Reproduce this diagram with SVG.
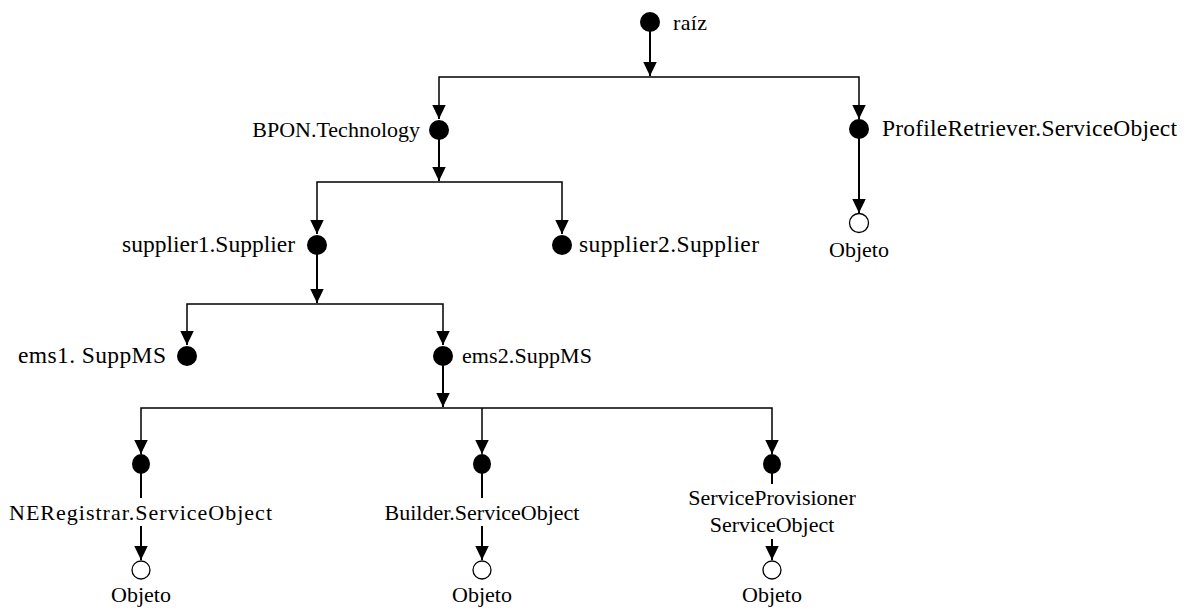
<svg xmlns="http://www.w3.org/2000/svg" width="1187" height="608" viewBox="0 0 1187 608">
<style>
.t{font-family:"Liberation Serif","Times New Roman",serif;font-size:22px;fill:#000}
.b{font-size:23.5px}
.e{text-anchor:end}
.m{text-anchor:middle}
.v{stroke:#000;stroke-width:2;fill:none}
.h{stroke:#000;stroke-width:1.5;fill:none}
.f{fill:#000}
.o{fill:#fff;stroke:#000;stroke-width:1.3}
</style>
<defs>
<marker id="a" markerUnits="userSpaceOnUse" markerWidth="15" markerHeight="15" viewBox="0 -7 14 14" refX="13.5" refY="0" orient="auto">
<path d="M0,-6.5 L13.5,0 L0,6.5 z" fill="#000"/>
</marker>
</defs>
<rect width="1187" height="608" fill="#fff"/>
<g id="connectors">
<line class="v" x1="650" y1="30" x2="650" y2="76" marker-end="url(#a)"/>
<polyline class="h" points="439,119 439,77 859,77 859,119"/>
<line class="h" x1="439" y1="105" x2="439" y2="119" marker-end="url(#a)"/>
<line class="h" x1="859" y1="105" x2="859" y2="119" marker-end="url(#a)"/>
<line class="v" x1="439" y1="138" x2="439" y2="181" marker-end="url(#a)"/>
<polyline class="h" points="317,234 317,182 562,182 562,234"/>
<line class="h" x1="317" y1="220" x2="317" y2="234" marker-end="url(#a)"/>
<line class="h" x1="562" y1="220" x2="562" y2="234" marker-end="url(#a)"/>
<line class="v" x1="859" y1="137" x2="859" y2="213" marker-end="url(#a)"/>
<line class="v" x1="317" y1="253" x2="317" y2="303" marker-end="url(#a)"/>
<polyline class="h" points="187,345 187,304 443,304 443,345"/>
<line class="h" x1="187" y1="331" x2="187" y2="345" marker-end="url(#a)"/>
<line class="h" x1="443" y1="331" x2="443" y2="345" marker-end="url(#a)"/>
<line class="v" x1="443" y1="364" x2="443" y2="407" marker-end="url(#a)"/>
<polyline class="h" points="141,454 141,408 772,408 772,454"/>
<line class="h" x1="482" y1="408" x2="482" y2="454" marker-end="url(#a)"/>
<line class="h" x1="141" y1="440" x2="141" y2="454" marker-end="url(#a)"/>
<line class="h" x1="772" y1="440" x2="772" y2="454" marker-end="url(#a)"/>
<line class="v" x1="141" y1="470" x2="141" y2="498"/>
<line class="v" x1="482" y1="470" x2="482" y2="498"/>
<line class="v" x1="772" y1="470" x2="772" y2="484"/>
<line class="v" x1="141" y1="526" x2="141" y2="560" marker-end="url(#a)"/>
<line class="v" x1="482" y1="526" x2="482" y2="560" marker-end="url(#a)"/>
<line class="v" x1="772" y1="539" x2="772" y2="560" marker-end="url(#a)"/>
</g>
<g id="raiz"><circle class="f" cx="650" cy="22" r="10"/><text class="t" x="673" y="30" textLength="34">raíz</text></g>
<g id="bpon"><circle class="f" cx="439" cy="130" r="10"/><text class="t e" x="420" y="137">BPON.Technology</text></g>
<g id="profile"><circle class="f" cx="859" cy="129" r="10"/><text class="t b" x="882" y="136" textLength="295" lengthAdjust="spacing">ProfileRetriever.ServiceObject</text></g>
<g id="profile-obj"><circle class="o" cx="859" cy="223" r="9.5"/><text class="t m" x="859" y="257">Objeto</text></g>
<g id="supplier1"><circle class="f" cx="317" cy="245" r="10"/><text class="t b" x="122" y="252" textLength="173" lengthAdjust="spacing">supplier1.Supplier</text></g>
<g id="supplier2"><circle class="f" cx="562" cy="245" r="10"/><text class="t b" x="579" y="252" textLength="180" lengthAdjust="spacing">supplier2.Supplier</text></g>
<g id="ems1"><circle class="f" cx="187" cy="356" r="10"/><text class="t b" x="18" y="363" textLength="148" lengthAdjust="spacing">ems1. SuppMS</text></g>
<g id="ems2"><circle class="f" cx="443" cy="356" r="10"/><text class="t" x="462" y="363" textLength="130" lengthAdjust="spacing">ems2.SuppMS</text></g>
<g id="neregistrar"><ellipse class="f" cx="141" cy="464" rx="9" ry="10"/><text class="t" x="9" y="520" textLength="263" lengthAdjust="spacing">NERegistrar.ServiceObject</text></g>
<g id="neregistrar-obj"><circle class="o" cx="141" cy="570" r="9"/><text class="t m" x="141" y="602">Objeto</text></g>
<g id="builder"><ellipse class="f" cx="482" cy="464" rx="9" ry="10"/><text class="t m" x="482" y="520">Builder.ServiceObject</text></g>
<g id="builder-obj"><circle class="o" cx="482" cy="570" r="9"/><text class="t m" x="482" y="602">Objeto</text></g>
<g id="provisioner"><ellipse class="f" cx="772" cy="464" rx="9" ry="10"/><text class="t m" x="772" y="505">ServiceProvisioner</text><text class="t m" x="772" y="532">ServiceObject</text></g>
<g id="provisioner-obj"><circle class="o" cx="772" cy="570" r="9"/><text class="t m" x="772" y="602">Objeto</text></g>
</svg>
